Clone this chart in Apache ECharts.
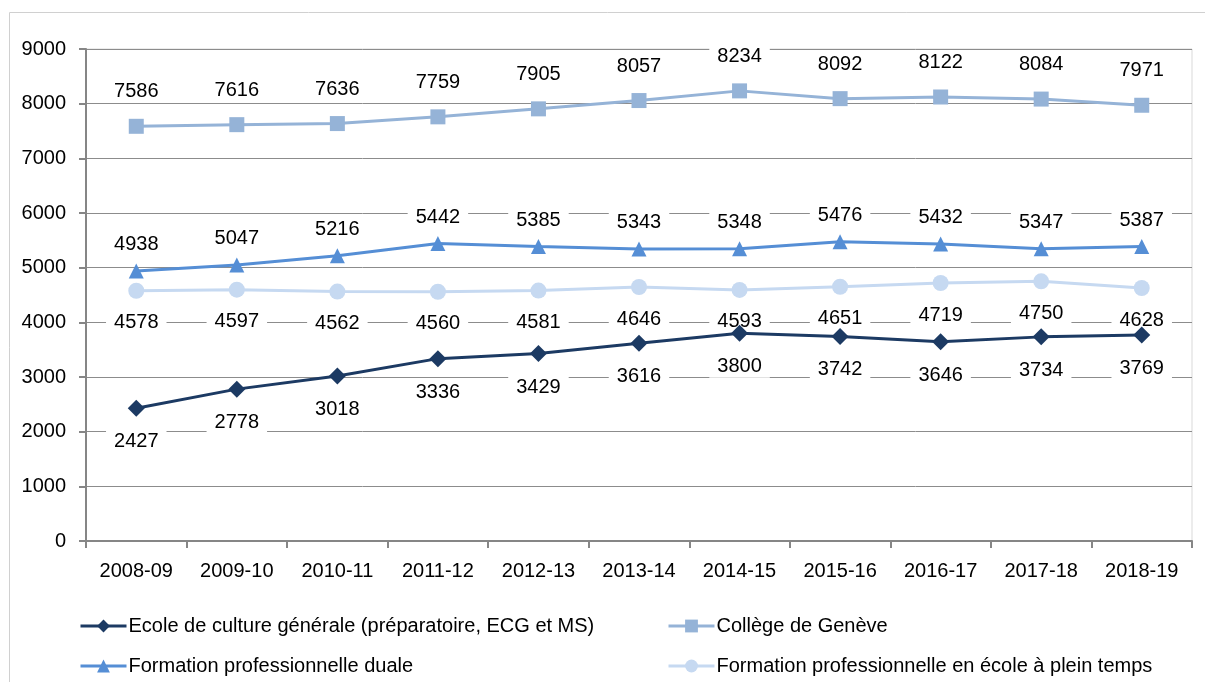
<!DOCTYPE html>
<html><head><meta charset="utf-8">
<script src="https://cdn.jsdelivr.net/npm/echarts@6/dist/echarts.min.js"></script>
<style>html,body{margin:0;padding:0;background:#fff}#c{width:1205px;height:682px}</style>
</head><body><div id="c"></div>
<script>
const categories = ["2008-09","2009-10","2010-11","2011-12","2012-13","2013-14","2014-15","2015-16","2016-17","2017-18","2018-19"];
const seriesNames = ["Ecole de culture générale (préparatoire, ECG et MS)","Collège de Genève","Formation professionnelle duale","Formation professionnelle en école à plein temps"];
const ecg = [2427,2778,3018,3336,3429,3616,3800,3742,3646,3734,3769];
const college = [7586,7616,7636,7759,7905,8057,8234,8092,8122,8084,7971];
const duale = [4938,5047,5216,5442,5385,5343,5348,5476,5432,5347,5387];
const pleinTemps = [4578,4597,4562,4560,4581,4646,4593,4651,4719,4750,4628];
const yTicks = [0,1000,2000,3000,4000,5000,6000,7000,8000,9000];

const FONT = 'Liberation Sans';
const FS = 20;
const chart = echarts.init(document.getElementById('c'), null, {renderer:'canvas'});
function lbl(pos, dist){
  return {show:true, position:pos, distance:dist, color:'#000', fontFamily:FONT, fontSize:FS,
    backgroundColor:'#fff', padding:[1,8,1,8]};
}
function ser(name, data, color, symbol, size, pos, dist, z){
  return {name, type:'line', data, symbol, symbolSize:size, z,
    lineStyle:{color, width:3}, itemStyle:{color},
    label:lbl(pos, dist), labelLayout:{hideOverlap:false}, emphasis:{disabled:true}};
}
function leg(name, left, top){
  return {data:[name], left, top, orient:'horizontal', itemWidth:46, itemHeight:16, padding:0,
    selectedMode:false, lineStyle:{width:3},
    textStyle:{fontSize:FS,fontFamily:FONT,color:'#000',padding:[0,0,0,-3]}};
}
chart.setOption({
  animation:false,
  textStyle:{fontFamily:FONT},
  grid:{left:86,right:13,top:49,bottom:141,show:true,borderColor:'#d9d9d9',borderWidth:1,containLabel:false},
  xAxis:{type:'category',data:categories,boundaryGap:true,
    axisLine:{lineStyle:{color:'#868686',width:2}},
    axisTick:{show:true,length:7,lineStyle:{color:'#868686',width:2}},
    axisLabel:{color:'#000',fontSize:FS,fontFamily:FONT,margin:20}},
  yAxis:{type:'value',min:0,max:9000,interval:1000,
    axisLine:{show:true,lineStyle:{color:'#868686',width:2}},
    axisTick:{show:true,length:7,lineStyle:{color:'#868686',width:2}},
    splitLine:{lineStyle:{color:'#8c8c8c',width:1}},
    axisLabel:{color:'#000',fontSize:FS,fontFamily:FONT,margin:20,
      formatter:v=>yTicks.includes(v)?String(v):''}},
  legend:[
    leg(seriesNames[0], 79, 616),
    leg(seriesNames[2], 79, 656),
    leg(seriesNames[1], 667, 616),
    leg(seriesNames[3], 667, 656)
  ],
  graphic:[{type:'rect',shape:{x:9.5,y:12.5,width:1220,height:700},style:{fill:'none',stroke:'#d0d0d0',lineWidth:1},silent:true,z:-1}],
  series:[
    ser(seriesNames[0], ecg, '#1c3a63','diamond',17,'bottom',14,5),
    ser(seriesNames[1], college, '#95b3d7','rect',15,'top',16,4),
    ser(seriesNames[2], duale, '#558ed5','triangle',15,'top',8,3),
    ser(seriesNames[3], pleinTemps, '#c6d9f1','circle',16,'bottom',13,2)
  ]
});
</script></body></html>
